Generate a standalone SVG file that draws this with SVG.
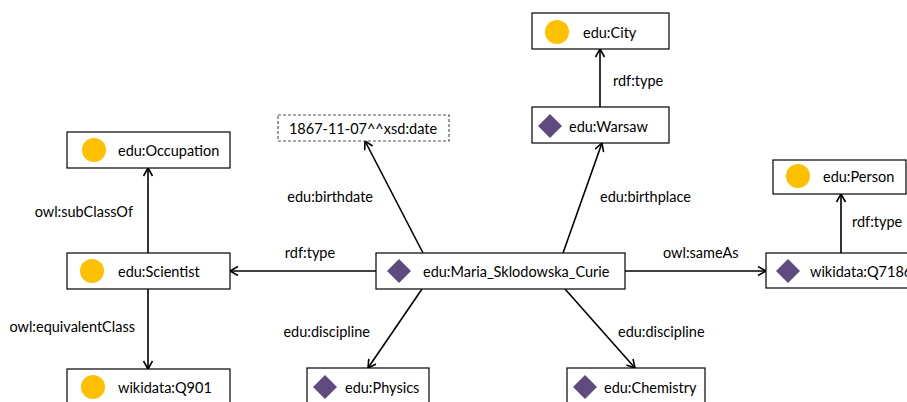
<svg xmlns="http://www.w3.org/2000/svg" width="907" height="402" viewBox="0 0 907 402">
<style>
.box{fill:#fff;stroke:#000;stroke-width:1.2}
.lit{fill:#fff;stroke:#555;stroke-width:1.2;stroke-dasharray:3 2}
.cls{fill:#FFC000}
.ind{fill:#5F4B7F}
text{font-family:Lato,"Liberation Sans",sans-serif;font-size:14.5px;fill:#000;dominant-baseline:central}
.e{stroke:#000;stroke-width:1.6;fill:none;marker-end:url(#arr)}
</style>
<defs>
<marker id="arr" markerUnits="userSpaceOnUse" markerWidth="12" markerHeight="12" refX="9" refY="5" orient="auto">
<path d="M1,0.5 L9,5 L1,9.5" fill="none" stroke="#000" stroke-width="1.6"/>
</marker>
</defs>
<g id="connectors">
<line class="e" x1="600" y1="107" x2="600" y2="49"/>
<line class="e" x1="376" y1="271" x2="230" y2="271"/>
<line class="e" x1="148" y1="253" x2="148" y2="168"/>
<line class="e" x1="148" y1="289" x2="148" y2="369"/>
<line class="e" x1="423" y1="253" x2="365" y2="141"/>
<line class="e" x1="563" y1="253" x2="602" y2="143"/>
<line class="e" x1="625" y1="271" x2="766" y2="271"/>
<line class="e" x1="422" y1="289" x2="368" y2="368"/>
<line class="e" x1="565" y1="289" x2="635" y2="368"/>
<line class="e" x1="841" y1="253" x2="841" y2="194"/>
<text x="613" y="80">rdf:type</text>
<text x="310" y="252" text-anchor="middle">rdf:type</text>
<text x="133" y="211" text-anchor="end">owl:subClassOf</text>
<text x="135" y="326" text-anchor="end">owl:equivalentClass</text>
<text x="373" y="196" text-anchor="end">edu:birthdate</text>
<text x="600" y="196">edu:birthplace</text>
<text x="663" y="252">owl:sameAs</text>
<text x="370" y="331" text-anchor="end">edu:discipline</text>
<text x="618" y="331">edu:discipline</text>
<text x="852" y="221">rdf:type</text>
</g>
<g id="city"><rect class="box" x="532" y="13" width="137" height="36"/><circle class="cls" cx="557" cy="32" r="12"/><text x="583" y="32">edu:City</text></g>
<g id="warsaw"><rect class="box" x="532" y="107" width="137" height="36"/><path class="ind" d="M550,114 L562,126 L550,138 L538,126 Z"/><text x="569" y="126">edu:Warsaw</text></g>
<g id="date"><rect class="lit" x="278" y="115" width="171" height="26"/><text x="363" y="128" text-anchor="middle">1867-11-07^^xsd:date</text></g>
<g id="occupation"><rect class="box" x="67" y="132" width="163" height="36"/><circle class="cls" cx="94" cy="150" r="12"/><text x="118" y="150">edu:Occupation</text></g>
<g id="scientist"><rect class="box" x="67" y="253" width="163" height="36"/><circle class="cls" cx="92" cy="271" r="12"/><text x="118" y="271">edu:Scientist</text></g>
<g id="q901"><rect class="box" x="67" y="369" width="163" height="40"/><circle class="cls" cx="93" cy="387" r="12"/><text x="118" y="387">wikidata:Q901</text></g>
<g id="physics"><rect class="box" x="307" y="368" width="122" height="40"/><path class="ind" d="M325,375 L337,387 L325,399 L313,387 Z"/><text x="345" y="387">edu:Physics</text></g>
<g id="chemistry"><rect class="box" x="567" y="368" width="138" height="40"/><path class="ind" d="M585,375 L597,387 L585,399 L573,387 Z"/><text x="604" y="387">edu:Chemistry</text></g>
<g id="maria"><rect class="box" x="376" y="253" width="249" height="36"/><path class="ind" d="M399,259 L411,271 L399,283 L387,271 Z"/><text x="423" y="271">edu:Maria_Sklodowska_Curie</text></g>
<g id="person"><rect class="box" x="773" y="160" width="133" height="34"/><circle class="cls" cx="798" cy="176" r="12"/><text x="823" y="176">edu:Person</text></g>
<g id="q7186"><rect class="box" x="766" y="253" width="160" height="35"/><path class="ind" d="M788,259 L800,271 L788,283 L776,271 Z"/><text x="810" y="271">wikidata:Q7186</text></g>
</svg>
